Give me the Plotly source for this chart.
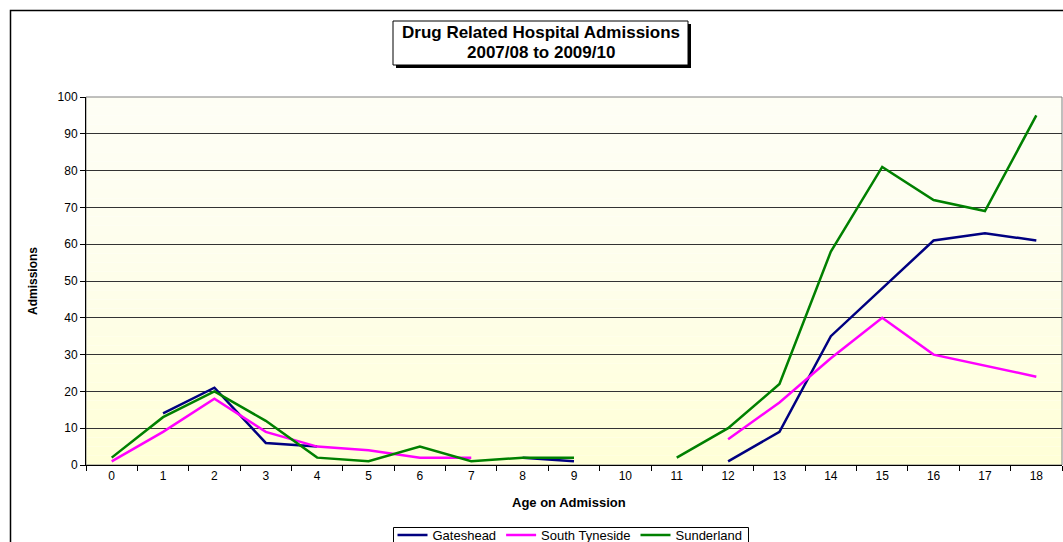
import plotly.graph_objects as go

ages = [str(i) for i in range(19)]
gateshead = [None, 14, 21, 6, 5, None, None, None, 2, 1, None, None, 1, 9, 35, 48, 61, 63, 61]
south_tyneside = [1, 9, 18, 9, 5, 4, 2, 2, None, None, None, None, 7, 17, 29, 40, 30, 27, 24]
sunderland = [2, 13, 20, 12, 2, 1, 5, 1, 2, 2, None, 2, 10, 22, 58, 81, 72, 69, 95]
y_ticks = list(range(0, 101, 10))

W, H = 1063, 542
# plot area in page pixels
L, R, T, B = 86, 1062, 97, 465
pw, ph = R - L, B - T


def px(x):
    return (x - L) / pw


def py(y):
    return (B - y) / ph


FONT = "Liberation Sans, Arial, sans-serif"

fig = go.Figure()
series = [("Gateshead", gateshead, "#000080"),
          ("South Tyneside", south_tyneside, "#FF00FF"),
          ("Sunderland", sunderland, "#008000")]
for name, vals, col in series:
    fig.add_trace(go.Scatter(x=ages, y=vals, name=name, mode="lines",
                             line=dict(color=col, width=2.5), connectgaps=False))

shapes = []
# gradient background of plot area
n = 40
top = (254, 254, 244)
bot = (255, 255, 214)
for i in range(n):
    t = (i + 0.5) / n
    c = tuple(round(top[k] + (bot[k] - top[k]) * (t ** 1.6)) for k in range(3))
    shapes.append(dict(type="rect", xref="x domain", yref="y domain",
                       x0=0, x1=1, y0=1 - (i + 1) / n, y1=1 - i / n,
                       fillcolor="rgb(%d,%d,%d)" % c, line=dict(width=0), layer="below"))
# plot area border
shapes.append(dict(type="rect", xref="x domain", yref="y domain", x0=0, x1=1, y0=0, y1=1,
                   line=dict(color="#808080", width=1), layer="below"))
# outer chart border
shapes.append(dict(type="rect", xref="paper", yref="paper",
                   x0=px(10.5), x1=px(1100), y0=py(600), y1=py(10.5),
                   line=dict(color="#000000", width=1.5)))
# title box shadow and box
shapes.append(dict(type="rect", xref="paper", yref="paper",
                   x0=px(396), x1=px(691), y0=py(68), y1=py(24),
                   fillcolor="#000000", line=dict(width=0)))
shapes.append(dict(type="rect", xref="paper", yref="paper",
                   x0=px(393), x1=px(688), y0=py(65), y1=py(21),
                   fillcolor="#FFFFFF", line=dict(color="#000000", width=1)))
# legend box
shapes.append(dict(type="rect", xref="paper", yref="paper",
                   x0=px(393.5), x1=px(748.5), y0=py(580), y1=py(527.5),
                   fillcolor="#FFFFFF", line=dict(color="#000000", width=1)))

annotations = [
    dict(text="<b>Drug Related Hospital Admissions</b>",
         xref="paper", yref="paper", x=px(540.5), y=py(33), xanchor="center", yanchor="middle",
         showarrow=False, font=dict(family=FONT, size=17, color="#000000")),
    dict(text="<b>2007/08 to 2009/10</b>",
         xref="paper", yref="paper", x=px(540.5), y=py(52), xanchor="center", yanchor="middle",
         showarrow=False, font=dict(family=FONT, size=17, color="#000000")),
    dict(text="<b>Admissions</b>", xref="paper", yref="paper", x=px(33), y=py(281),
         xanchor="center", yanchor="middle", textangle=-90, showarrow=False,
         font=dict(family=FONT, size=12, color="#000000")),
    dict(text="<b>Age on Admission</b>", xref="paper", yref="paper", x=px(569), y=py(503),
         xanchor="center", yanchor="middle", showarrow=False,
         font=dict(family=FONT, size=13, color="#000000")),
]

fig.update_layout(
    width=W, height=H,
    margin=dict(l=L, r=W - R, t=T, b=H - B, autoexpand=False),
    paper_bgcolor="#FFFFFF", plot_bgcolor="rgba(0,0,0,0)",
    font=dict(family=FONT, size=12, color="#000000"),
    showlegend=True,
    legend=dict(orientation="h", x=px(570), y=py(520), xanchor="center", yanchor="top",
                borderwidth=0, bgcolor="rgba(0,0,0,0)",
                font=dict(family=FONT, size=13, color="#000000"),
                itemwidth=30, tracegroupgap=0),
    shapes=shapes, annotations=annotations,
    xaxis=dict(type="category", categoryorder="array", categoryarray=ages,
               range=[-0.5, 18.5], tickson="boundaries", ticks="outside", ticklen=5,
               tickcolor="#000000", showline=True, linecolor="#000000", linewidth=1,
               showgrid=False, zeroline=False, tickfont=dict(size=12)),
    yaxis=dict(range=[0, 100], tickvals=y_ticks, ticks="outside", ticklen=5,
               tickcolor="#000000", showline=True, linecolor="#000000", linewidth=1,
               showgrid=True, gridcolor="#333333", gridwidth=1, zeroline=False,
               tickfont=dict(size=12)),
)

fig.write_html("out.html", config={"displayModeBar": False},
               post_script="document.body.style.margin='0';document.body.style.overflow='hidden';")
